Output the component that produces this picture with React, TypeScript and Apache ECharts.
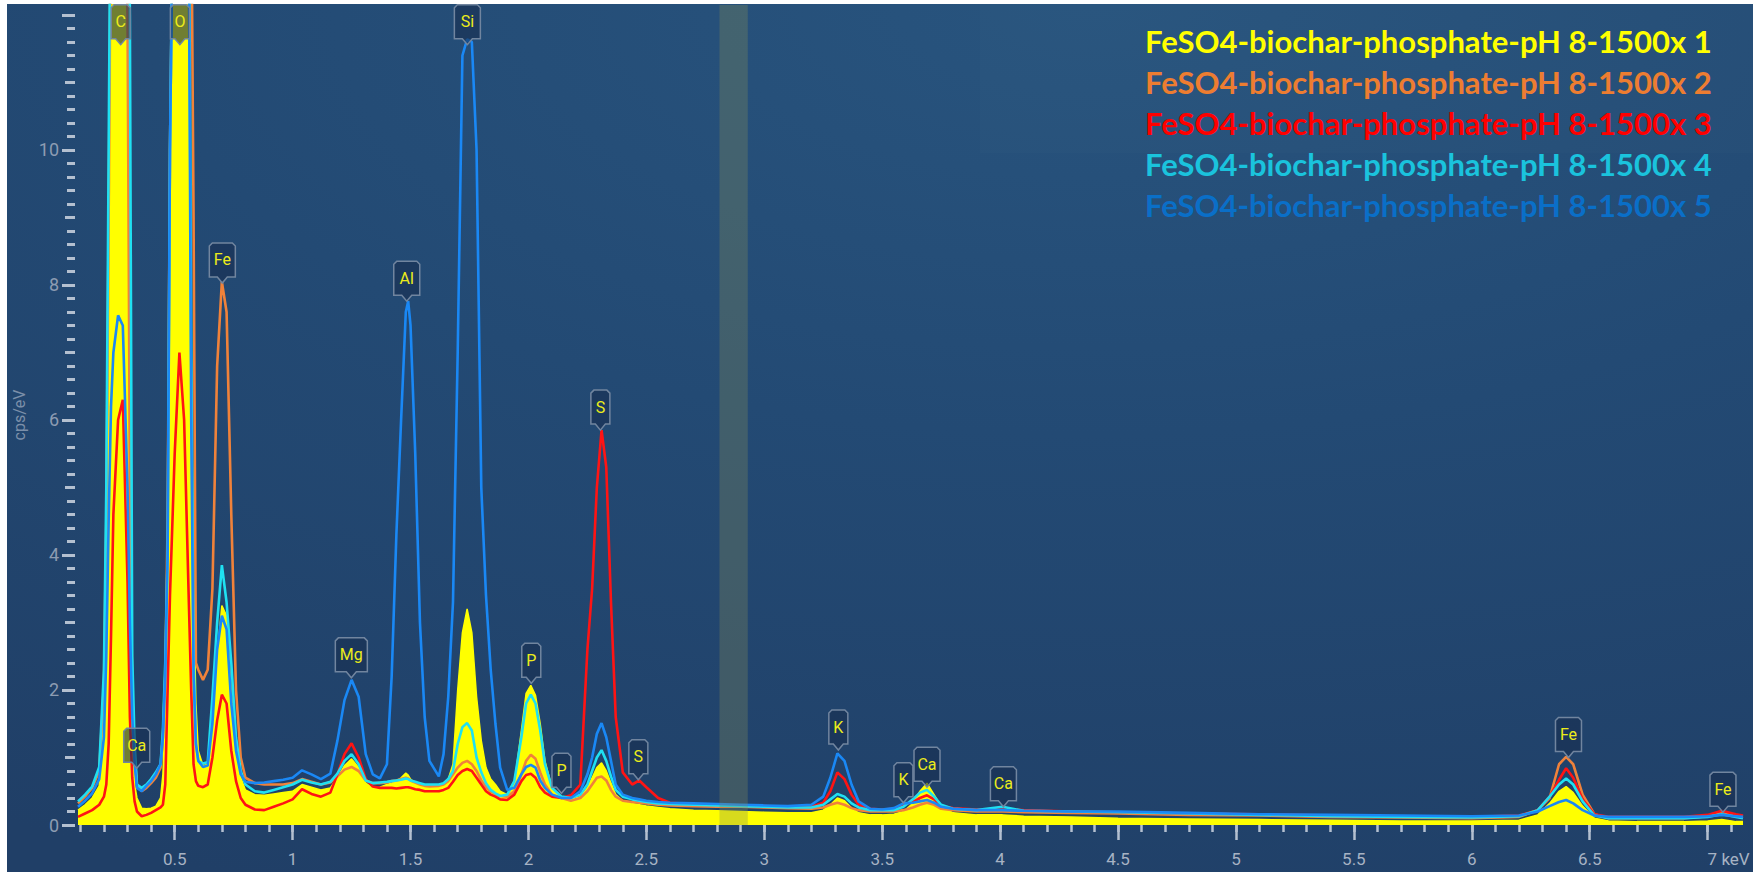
import React, { useEffect, useRef } from 'react';
import * as echarts from 'echarts';

// ---- energy channels (keV) ----
const energies = [
  0.09, 0.12, 0.15, 0.18, 0.20, 0.21, 0.22, 0.23, 0.24, 0.26,
  0.28, 0.30, 0.31, 0.32, 0.33, 0.34, 0.36, 0.38, 0.40, 0.42,
  0.44, 0.45, 0.46, 0.47, 0.48, 0.50, 0.52, 0.54, 0.56, 0.57,
  0.58, 0.59, 0.60, 0.62, 0.64, 0.66, 0.68, 0.70, 0.72, 0.74,
  0.76, 0.78, 0.80, 0.84, 0.88, 0.92, 0.96, 1.00, 1.04, 1.08,
  1.12, 1.16, 1.19, 1.22, 1.25, 1.28, 1.31, 1.34, 1.37, 1.40,
  1.42, 1.44, 1.46, 1.48, 1.49, 1.50, 1.52, 1.54, 1.56, 1.58,
  1.62, 1.64, 1.66, 1.68, 1.70, 1.72, 1.74, 1.76, 1.78, 1.80,
  1.82, 1.84, 1.86, 1.88, 1.91, 1.94, 1.97, 1.99, 2.01, 2.03,
  2.05, 2.07, 2.10, 2.14, 2.18, 2.22, 2.25, 2.27, 2.29, 2.31,
  2.33, 2.35, 2.37, 2.40, 2.44, 2.47, 2.50, 2.55, 2.60, 2.70,
  2.80, 2.90, 3.00, 3.10, 3.20, 3.25, 3.28, 3.31, 3.34, 3.37,
  3.40, 3.45, 3.50, 3.55, 3.59, 3.63, 3.66, 3.69, 3.72, 3.75,
  3.80, 3.90, 4.01, 4.10, 4.30, 4.50, 4.80, 5.10, 5.40, 5.70,
  6.00, 6.20, 6.28, 6.33, 6.37, 6.40, 6.43, 6.47, 6.52, 6.58,
  6.70, 6.90, 7.00, 7.06, 7.12, 7.15,
];

// ---- cps/eV for each spectrum ----
const spectrum1 = [
  0.22, 0.30, 0.40, 0.58, 1.8, 3.5, 7.0, 11, 15, 16,
  16, 14, 6, 1.5, 0.6, 0.4, 0.25, 0.24, 0.25, 0.28,
  0.4, 0.75, 1.6, 3.5, 8, 15, 16, 16, 12, 7,
  3.5, 1.8, 1.1, 0.88, 0.9, 1.5, 2.5, 3.25, 3.1, 2.0,
  1.1, 0.7, 0.52, 0.45, 0.44, 0.46, 0.48, 0.5, 0.6, 0.56,
  0.52, 0.55, 0.7, 0.88, 0.98, 0.85, 0.62, 0.55, 0.56, 0.6,
  0.62, 0.65, 0.7, 0.77, 0.74, 0.68, 0.62, 0.6, 0.58, 0.57,
  0.58, 0.6, 0.68, 0.9, 2.0, 2.85, 3.2, 2.85, 1.9, 1.25,
  0.85, 0.68, 0.6, 0.5, 0.45, 0.6, 1.4, 1.95, 2.07, 1.92,
  1.5, 0.95, 0.55, 0.42, 0.38, 0.42, 0.55, 0.7, 0.85, 0.92,
  0.8, 0.62, 0.45, 0.36, 0.32, 0.3, 0.28, 0.26, 0.24, 0.22,
  0.21, 0.2, 0.19, 0.18, 0.18, 0.22, 0.3, 0.4, 0.36, 0.25,
  0.18, 0.15, 0.15, 0.16, 0.2, 0.32, 0.5, 0.62, 0.45, 0.28,
  0.18, 0.15, 0.15, 0.13, 0.12, 0.1, 0.09, 0.08, 0.07, 0.06,
  0.06, 0.07, 0.15, 0.32, 0.5, 0.57, 0.48, 0.28, 0.1, 0.06,
  0.05, 0.05, 0.06, 0.08, 0.05, 0.05,
];
const spectrum2 = [
  0.32, 0.42, 0.55, 0.8, 2.1, 4.5, 9, 14, 16, 16,
  16, 12, 5, 2.0, 1.0, 0.6, 0.5, 0.55, 0.62, 0.7,
  0.85, 1.3, 2.2, 4.5, 10, 16, 16, 16, 16, 14,
  9, 2.4, 2.3, 2.15, 2.3, 3.5, 6.8, 8.05, 7.6, 4.6,
  2.0, 1.0, 0.7, 0.62, 0.6, 0.6, 0.6, 0.62, 0.68, 0.64,
  0.6, 0.63, 0.72, 0.82, 0.86, 0.8, 0.66, 0.62, 0.62, 0.63,
  0.65, 0.66, 0.68, 0.7, 0.69, 0.66, 0.63, 0.6, 0.58, 0.57,
  0.58, 0.6, 0.65, 0.75, 0.85, 0.92, 0.95, 0.9, 0.8, 0.66,
  0.56, 0.5, 0.46, 0.43, 0.42, 0.5, 0.75, 0.95, 1.04, 0.98,
  0.78, 0.6, 0.45, 0.4, 0.36, 0.4, 0.5, 0.6, 0.7, 0.72,
  0.66, 0.52, 0.42, 0.36, 0.34, 0.33, 0.32, 0.3, 0.29, 0.28,
  0.27, 0.27, 0.26, 0.25, 0.24, 0.26, 0.3, 0.33, 0.3, 0.25,
  0.22, 0.2, 0.2, 0.2, 0.22, 0.26, 0.3, 0.33, 0.3, 0.24,
  0.22, 0.2, 0.2, 0.19, 0.18, 0.17, 0.15, 0.14, 0.12, 0.11,
  0.1, 0.12, 0.22, 0.4, 0.9, 1.01, 0.9, 0.45, 0.16, 0.1,
  0.1, 0.1, 0.13, 0.2, 0.14, 0.12,
];
const spectrum3 = [
  0.12, 0.17, 0.22, 0.3, 0.42, 0.6, 1.2, 2.8, 4.6, 6.0,
  6.3, 3.6, 1.6, 0.7, 0.35, 0.2, 0.13, 0.15, 0.18, 0.22,
  0.26, 0.3, 0.6, 2.0, 3.4, 5.5, 7.0, 6.0, 3.3, 2.0,
  0.9, 0.65, 0.58, 0.56, 0.6, 1.0, 1.55, 1.93, 1.8, 1.1,
  0.65, 0.4, 0.3, 0.23, 0.22, 0.27, 0.32, 0.38, 0.53, 0.46,
  0.42, 0.48, 0.75, 1.05, 1.21, 1.0, 0.68, 0.57, 0.55, 0.55,
  0.55, 0.54, 0.55, 0.56, 0.56, 0.55, 0.53, 0.52, 0.5, 0.5,
  0.5, 0.52, 0.55, 0.64, 0.74, 0.8, 0.83, 0.8, 0.7, 0.6,
  0.5, 0.45, 0.42, 0.38, 0.37, 0.45, 0.65, 0.74, 0.76, 0.7,
  0.56, 0.48, 0.42, 0.4, 0.44, 0.6, 2.6, 3.5, 5.0, 5.85,
  5.3, 3.3, 1.6, 0.78, 0.6, 0.66, 0.56, 0.4, 0.33, 0.31,
  0.3, 0.29, 0.28, 0.27, 0.27, 0.33, 0.5, 0.78, 0.68, 0.45,
  0.3, 0.24, 0.23, 0.24, 0.3, 0.34, 0.4, 0.44, 0.38, 0.28,
  0.25, 0.23, 0.23, 0.22, 0.2, 0.19, 0.17, 0.16, 0.14, 0.13,
  0.12, 0.14, 0.22, 0.42, 0.67, 0.84, 0.7, 0.38, 0.16, 0.12,
  0.12, 0.12, 0.15, 0.21, 0.16, 0.14,
];
const spectrum4 = [
  0.35, 0.45, 0.57, 0.86, 2.3, 5.0, 10, 15, 16, 16,
  16, 16, 12, 2.5, 1.2, 0.6, 0.55, 0.6, 0.68, 0.78,
  0.9, 1.4, 2.4, 4.0, 10, 16, 16, 16, 14, 7,
  2.5, 1.2, 0.95, 0.91, 0.93, 1.9, 3.0, 3.85, 3.3, 2.4,
  1.3, 0.8, 0.6, 0.5, 0.48, 0.52, 0.56, 0.6, 0.67, 0.63,
  0.6, 0.64, 0.76, 0.95, 1.05, 0.9, 0.66, 0.62, 0.63, 0.64,
  0.65, 0.66, 0.67, 0.69, 0.68, 0.66, 0.64, 0.62, 0.6, 0.6,
  0.6, 0.62, 0.68, 0.8, 1.2, 1.45, 1.51, 1.4, 1.0, 0.78,
  0.62, 0.52, 0.47, 0.43, 0.45, 0.65, 1.3, 1.8, 1.93, 1.8,
  1.4, 0.9, 0.55, 0.42, 0.4, 0.45, 0.6, 0.8, 1.0, 1.11,
  0.95, 0.72, 0.52, 0.42, 0.38, 0.36, 0.34, 0.32, 0.31, 0.3,
  0.29, 0.28, 0.27, 0.26, 0.26, 0.3, 0.38, 0.46, 0.42, 0.32,
  0.26, 0.22, 0.22, 0.22, 0.27, 0.38, 0.48, 0.52, 0.42, 0.3,
  0.24, 0.22, 0.27, 0.21, 0.2, 0.19, 0.17, 0.15, 0.13, 0.12,
  0.11, 0.13, 0.22, 0.42, 0.6, 0.69, 0.6, 0.35, 0.14, 0.1,
  0.1, 0.1, 0.12, 0.16, 0.12, 0.1,
];
const spectrum5 = [
  0.27, 0.36, 0.47, 0.68, 1.3, 2.5, 4.5, 6.2, 7.0, 7.55,
  7.4, 5.0, 3.0, 1.6, 0.9, 0.55, 0.5, 0.58, 0.65, 0.75,
  0.9, 1.3, 2.2, 4.0, 10, 16, 16, 16, 13, 6,
  2.2, 1.2, 0.95, 0.86, 0.88, 1.5, 2.6, 3.1, 2.9, 1.8,
  1.1, 0.75, 0.64, 0.62, 0.63, 0.65, 0.67, 0.7, 0.81, 0.75,
  0.68, 0.76, 1.25, 1.85, 2.15, 1.9, 1.05, 0.75, 0.69, 0.9,
  2.2, 4.3, 6.0, 7.6, 7.76, 7.4, 5.5, 3.0, 1.6, 0.95,
  0.72, 1.05, 1.9, 3.3, 7.0, 11.4, 11.64, 11.6, 10.0, 5.0,
  3.4, 2.3, 1.5, 0.85, 0.52, 0.55, 0.75, 0.86, 0.89, 0.85,
  0.66, 0.55, 0.45, 0.4, 0.4, 0.5, 0.75, 1.0, 1.35, 1.51,
  1.3, 0.95, 0.6, 0.45, 0.4, 0.38, 0.36, 0.34, 0.33, 0.32,
  0.31, 0.3, 0.29, 0.28, 0.3, 0.42, 0.7, 1.06, 0.95, 0.6,
  0.35, 0.24, 0.23, 0.25, 0.32, 0.33, 0.35, 0.37, 0.33, 0.27,
  0.24, 0.22, 0.22, 0.21, 0.2, 0.2, 0.18, 0.16, 0.15, 0.14,
  0.13, 0.14, 0.2, 0.28, 0.34, 0.37, 0.32, 0.22, 0.14, 0.12,
  0.12, 0.12, 0.13, 0.15, 0.13, 0.12,
];

const seriesNames = [
  'FeSO4-biochar-phosphate-pH 8-1500x 1',
  'FeSO4-biochar-phosphate-pH 8-1500x 2',
  'FeSO4-biochar-phosphate-pH 8-1500x 3',
  'FeSO4-biochar-phosphate-pH 8-1500x 4',
  'FeSO4-biochar-phosphate-pH 8-1500x 5',
];
const lineColors = ['#ffff00', '#f0823a', '#ff1414', '#1fe0f2', '#1a88f5'];
const legendColors = ['#ffff00', '#ed7d31', '#ff0000', '#1ac3dd', '#0a6fc8'];

// ---- peak labels ----
const peakLabels = ['C', 'O', 'Ca', 'Fe', 'Mg', 'Al', 'Si', 'P', 'P', 'S', 'S', 'K', 'K', 'Ca', 'Ca', 'Fe', 'Fe'];
const peakEnergies = [0.271, 0.522, 0.339, 0.702, 1.249, 1.484, 1.741, 2.012, 2.14, 2.305, 2.466, 3.314, 3.59, 3.69, 4.014, 6.41, 7.065];
const peakTips = [11.56, 11.56, 0.84, 8.03, 2.18, 7.76, 11.56, 2.1, 0.47, 5.85, 0.67, 1.11, 0.33, 0.56, 0.27, 1.0, 0.19];

// ---- axes ----
const xLabelValues = [0.5, 1, 1.5, 2, 2.5, 3, 3.5, 4, 4.5, 5, 5.5, 6, 6.5, 7];
const yLabelValues = [0, 2, 4, 6, 8, 10];
const yMajorTicks = [0, 2, 4, 6, 8, 10, 12];
const yMidTicks = [1, 3, 5, 7, 9, 11];
const xMinorTicks = Array.from({ length: 71 }, (_, i) => +(0.1 * (i + 1)).toFixed(1));
const yMinorTicks = Array.from({ length: 60 }, (_, i) => +(0.2 * (i + 1)).toFixed(1));
const X_MIN = 0.09;
const X_MAX = 7.15;
const Y_MAX = 12.148;
const bandRange = [2.81, 2.93];

const spectra = [spectrum1, spectrum2, spectrum3, spectrum4, spectrum5];

export default function App() {
  const ref = useRef<HTMLDivElement>(null);

  useEffect(() => {
    document.body.style.margin = '0';
    const chart = echarts.init(ref.current as HTMLDivElement, null, { renderer: 'svg' });

    const tickColor = '#b4c0d0';
    const lineSeries = spectra.map((vals, i) => ({
      name: seriesNames[i],
      type: 'line',
      data: energies.map((e, j) => [e, vals[j]]),
      showSymbol: false,
      symbol: 'none',
      clip: true,
      silent: true,
      z: 2 + i,
      lineStyle: { color: lineColors[i], width: i === 0 ? 1.5 : 2.6 },
      itemStyle: { color: lineColors[i] },
      areaStyle: i === 0 ? { color: '#ffff00', opacity: 1 } : undefined,
    }));

    const bandSeries = {
      type: 'custom',
      silent: true,
      z: 20,
      data: [bandRange],
      renderItem: (params: any, api: any) => {
        const p0 = api.coord([api.value(0), Y_MAX]);
        const p1 = api.coord([api.value(1), 0]);
        return {
          type: 'rect',
          shape: { x: p0[0], y: p0[1], width: p1[0] - p0[0], height: p1[1] - p0[1] },
          style: { fill: 'rgba(130,140,90,0.32)' },
        };
      },
    };

    const labelSeries = {
      type: 'custom',
      silent: true,
      clip: false,
      z: 30,
      data: peakEnergies.map((e, i) => [e, peakTips[i]]),
      renderItem: (params: any, api: any) => {
        const pt = api.coord([api.value(0), api.value(1)]);
        const label = peakLabels[params.dataIndex];
        const w = label === 'Mg' ? 32 : label.length === 1 ? 19 : 26;
        const h = 34;
        const tail = 6;
        const bx = pt[0] - w / 2;
        const by = pt[1] - tail - h;
        return {
          type: 'group',
          children: [
            {
              type: 'polygon',
              shape: {
                points: [
                  [bx + 3, by], [bx + w - 3, by], [bx + w, by + 3], [bx + w, by + h],
                  [pt[0] + 5, by + h], [pt[0], pt[1]], [pt[0] - 5, by + h],
                  [bx, by + h], [bx, by + 3],
                ],
              },
              style: { fill: 'rgba(24,46,80,0.62)', stroke: '#71859f', lineWidth: 1.5 },
            },
            {
              type: 'text',
              x: pt[0],
              y: by + h / 2,
              style: {
                text: label, fill: '#ecec1a', fontSize: 16, fontFamily: 'Roboto',
                align: 'center', verticalAlign: 'middle',
              },
            },
          ],
        };
      },
    };

    const baseX = {
      type: 'value', min: X_MIN, max: X_MAX, position: 'bottom', offset: 3,
      axisLine: { show: false }, splitLine: { show: false },
    };
    const baseY = {
      type: 'value', min: 0, max: Y_MAX, position: 'left', offset: 3,
      axisLine: { show: false }, splitLine: { show: false },
    };

    chart.setOption({
      animation: false,
      grid: { left: 78, top: 5, width: 1665, height: 820, outerBoundsMode: 'none', containLabel: false },
      legend: {
        show: true, orient: 'vertical', left: 1135, top: 20, itemGap: 10,
        itemWidth: 0, itemHeight: 0, icon: 'none', selectedMode: false,
        textStyle: { fontFamily: 'Lato', fontWeight: 'bold', fontSize: 31, lineHeight: 31 },
        data: seriesNames.map((name, i) => ({ name, textStyle: { color: legendColors[i] } })),
      },
      xAxis: [
        {
          ...baseX,
          axisTick: { show: true, customValues: xLabelValues, length: 15, lineStyle: { color: tickColor, width: 2.5 } },
          axisLabel: {
            show: true, customValues: xLabelValues, margin: 22, color: '#a7b3c4', fontSize: 17, fontFamily: 'Roboto',
            alignMaxLabel: 'left',
            formatter: (v: number) => (v === 7 ? '7 keV' : String(v)),
          },
        },
        {
          ...baseX,
          axisTick: { show: true, customValues: xMinorTicks, length: 7, lineStyle: { color: tickColor, width: 2.5 } },
          axisLabel: { show: false },
        },
      ],
      yAxis: [
        {
          ...baseY,
          name: 'cps/eV', nameLocation: 'middle', nameRotate: 90, nameGap: 46,
          nameTextStyle: { color: '#7b8fa9', fontSize: 16, fontFamily: 'Roboto' },
          axisTick: { show: true, customValues: yMajorTicks, length: 13, lineStyle: { color: tickColor, width: 3 } },
          axisLabel: { show: true, customValues: yLabelValues, margin: 16, color: '#8d9cb2', fontSize: 18, fontFamily: 'Roboto' },
        },
        {
          ...baseY,
          axisTick: { show: true, customValues: yMidTicks, length: 10, lineStyle: { color: tickColor, width: 3 } },
          axisLabel: { show: false },
        },
        {
          ...baseY,
          axisTick: { show: true, customValues: yMinorTicks, length: 8, lineStyle: { color: tickColor, width: 3 } },
          axisLabel: { show: false },
        },
      ],
      series: [...lineSeries, bandSeries, labelSeries],
    } as any);

    return () => chart.dispose();
  }, []);

  return (
    <div style={{ position: 'relative', width: 1760, height: 872, background: '#ffffff', overflow: 'hidden' }}>
      <div
        style={{
          position: 'absolute', left: 7, top: 4, width: 1746, height: 868,
          background: 'radial-gradient(ellipse 120% 110% at 62% 0%, #28547e 0%, #234a74 45%, #203f67 100%)',
        }}
      />
      <div
        style={{
          position: 'absolute', left: 980, top: 4, width: 773, height: 149,
          background: 'rgba(255,255,255,0.012)',
        }}
      />
      <div ref={ref} style={{ position: 'absolute', left: 0, top: 0, width: 1760, height: 872 }} />
    </div>
  );
}
